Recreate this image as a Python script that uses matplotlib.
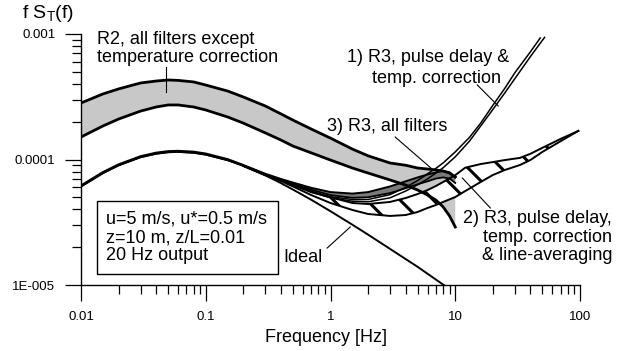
import matplotlib
matplotlib.use('Agg')
import matplotlib.pyplot as plt
from matplotlib.patches import Rectangle
from matplotlib.ticker import FixedLocator, FixedFormatter, LogLocator, NullFormatter

plt.rcParams['font.family'] = ['Liberation Sans', 'DejaVu Sans']
plt.rcParams['mathtext.fontset'] = 'custom'
plt.rcParams['mathtext.rm'] = 'Liberation Sans'
plt.rcParams['mathtext.it'] = 'Liberation Sans:italic'
plt.rcParams['hatch.linewidth'] = 2.2

# ---------------- data ----------------
f_r2 = [0.01, 0.015, 0.02, 0.03, 0.04, 0.05, 0.06, 0.08, 0.1, 0.15, 0.2, 0.3,
        0.4, 0.5, 0.7, 1, 1.5, 2, 3, 4, 5, 6, 7, 8, 9, 10]
r2_upper = [2.82e-4, 3.33e-4, 3.65e-4, 4.07e-4, 4.22e-4, 4.30e-4, 4.27e-4, 4.15e-4,
            3.92e-4, 3.51e-4, 3.15e-4, 2.67e-4, 2.31e-4, 2.06e-4, 1.75e-4, 1.48e-4,
            1.21e-4, 1.07e-4, 9.38e-5, 9.0e-5, 8.55e-5, 8.4e-5, 8.25e-5, 8.1e-5,
            7.8e-5, 7.26e-5]
r2_lower = [1.51e-4, 1.85e-4, 2.10e-4, 2.43e-4, 2.62e-4, 2.72e-4, 2.72e-4, 2.62e-4,
            2.48e-4, 2.18e-4, 1.95e-4, 1.63e-4, 1.43e-4, 1.28e-4, 1.13e-4, 9.9e-5,
            8.55e-5, 7.8e-5, 6.87e-5, 6.26e-5, 5.71e-5, 5.21e-5, 4.75e-5, 4.19e-5,
            3.55e-5, 2.9e-5]

f_ideal = [0.01, 0.015, 0.02, 0.03, 0.04, 0.05, 0.06, 0.08, 0.1, 0.15, 0.2, 0.3,
           0.4, 0.5, 0.7, 1, 1.5, 2, 3, 5, 8.2]
ideal = [6.09e-5, 7.79e-5, 8.98e-5, 1.043e-4, 1.112e-4, 1.143e-4, 1.150e-4, 1.132e-4,
         1.094e-4, 9.87e-5, 8.91e-5, 7.48e-5, 6.49e-5, 5.76e-5, 4.78e-5, 3.87e-5,
         3.02e-5, 2.52e-5, 1.94e-5, 1.394e-5, 0.99e-5]

f_r3 = [0.01, 0.015, 0.02, 0.03, 0.04, 0.05, 0.06, 0.08, 0.1, 0.15,
        0.2, 0.3, 0.4, 0.5, 0.7, 1, 1.5, 2, 3, 4, 5, 6, 7, 8, 9, 10]
r3_all_upper = [6.22e-5, 7.95e-5, 9.15e-5, 1.063e-4, 1.134e-4, 1.166e-4, 1.173e-4,
                1.155e-4, 1.116e-4, 1.007e-4,
                9.05e-5, 7.7e-5, 7.0e-5, 6.55e-5, 5.95e-5, 5.5e-5, 5.35e-5, 5.5e-5,
                6.1e-5, 6.7e-5, 7.2e-5, 7.6e-5, 7.9e-5, 8.1e-5, 7.9e-5, 7.2e-5]
r3_all_lower = [6.09e-5, 7.79e-5, 8.98e-5, 1.043e-4, 1.112e-4, 1.143e-4, 1.150e-4,
                1.132e-4, 1.094e-4, 9.87e-5,
                8.93e-5, 7.6e-5, 6.9e-5, 6.4e-5, 5.75e-5, 5.2e-5, 4.95e-5, 5.0e-5,
                5.4e-5, 5.9e-5, 6.35e-5, 6.7e-5, 7.05e-5, 7.2e-5, 7.05e-5, 6.5e-5]

f_pd_a = [0.2, 0.3, 0.4, 0.5, 0.7, 1, 1.5, 2, 3, 4, 5, 6, 7, 8, 10, 13, 16, 20,
          25, 30, 40, 48]
pd_a = [8.92e-5, 7.55e-5, 6.8e-5, 6.3e-5, 5.6e-5, 5.05e-5, 4.8e-5, 4.8e-5, 5.25e-5,
        6.0e-5, 6.8e-5, 7.7e-5, 8.5e-5, 9.4e-5, 1.15e-4, 1.5e-4, 1.95e-4, 2.7e-4,
        3.7e-4, 4.9e-4, 7.2e-4, 9.3e-4]
f_pd_b = [0.2, 0.3, 0.4, 0.5, 0.7, 1, 1.5, 2, 3, 4, 5, 6, 7, 8, 10, 13, 16, 20,
          25, 30, 40, 52]
pd_b = [8.92e-5, 7.55e-5, 6.8e-5, 6.25e-5, 5.5e-5, 4.95e-5, 4.65e-5, 4.6e-5, 4.95e-5,
        5.6e-5, 6.3e-5, 7.0e-5, 7.8e-5, 8.6e-5, 1.05e-4, 1.4e-4, 1.85e-4, 2.5e-4,
        3.4e-4, 4.4e-4, 6.6e-4, 9.4e-4]

f_la = [0.2, 0.3, 0.4, 0.5, 0.7, 1, 1.5, 2, 3, 4, 5, 6, 7, 8, 10, 12, 16, 20, 25,
        33, 40, 50, 70, 97]
la_upper = [8.9e-5, 7.55e-5, 6.85e-5, 6.3e-5, 5.5e-5, 5.0e-5, 4.5e-5, 4.42e-5,
            4.59e-5, 4.93e-5, 5.31e-5, 5.71e-5, 6.15e-5, 6.62e-5, 7.5e-5, 8.6e-5,
            9.2e-5, 9.54e-5, 9.9e-5, 1.03e-4, 1.11e-4, 1.24e-4, 1.46e-4, 1.69e-4]
la_lower = [8.88e-5, 7.5e-5, 6.74e-5, 6.1e-5, 5.21e-5, 4.5e-5, 3.96e-5, 3.68e-5,
            3.55e-5, 3.61e-5, 3.82e-5, 4.11e-5, 4.34e-5, 4.59e-5, 5.02e-5, 5.6e-5,
            6.62e-5, 7.52e-5, 8.25e-5, 9.04e-5, 9.9e-5, 1.15e-4, 1.40e-4, 1.69e-4]

x_ticks = [0.01, 0.1, 1, 10, 100]
x_labels = ['0.01', '0.1', '1', '10', '100']
y_ticks = [1e-5, 1e-4, 1e-3]
y_labels = ['1E-005', '0.0001', '0.001']

# ---------------- figure ----------------
W, H = 623, 351
fig = plt.figure(figsize=(W / 100, H / 100), dpi=100)
L, R, T, B = 81, 580, 34, 285
ax = fig.add_axes([L / W, 1 - B / H, (R - L) / W, (B - T) / H])
ax.set_xscale('log')
ax.set_yscale('log')
ax.set_xlim(0.01, 100)
ax.set_ylim(1e-5, 1e-3)

# R2 band (stippled)
ax.fill_between(f_r2, r2_lower, r2_upper, facecolor='#c8c8c8', edgecolor='none', zorder=1)
# line-averaging band (hatched)
ax.fill_between(f_la, la_lower, la_upper, facecolor='white', edgecolor='black',
                hatch='\\', linewidth=0, zorder=2)
# all filters band (dark)
ax.fill_between(f_r3, r3_all_lower, r3_all_upper, facecolor='#7a7a7a',
                edgecolor='none', zorder=2.5)

ax.plot(f_r2, r2_upper, color='black', lw=2.0, zorder=4)
ax.plot(f_r2, r2_lower, color='black', lw=2.0, zorder=4)
ax.plot(f_ideal, ideal, color='black', lw=1.4, zorder=4)
ax.plot(f_r3, r3_all_upper, color='black', lw=1.4, zorder=4)
ax.plot(f_r3, r3_all_lower, color='black', lw=1.3, zorder=4)
ax.plot(f_pd_a, pd_a, color='black', lw=1.1, zorder=4)
ax.plot(f_pd_b, pd_b, color='black', lw=1.1, zorder=4)
ax.plot(f_la, la_upper, color='black', lw=1.4, zorder=4)
ax.plot(f_la, la_lower, color='black', lw=1.4, zorder=4)

# axes styling
for s in ['top', 'right']:
    ax.spines[s].set_visible(False)
for s in ['left', 'bottom']:
    ax.spines[s].set_linewidth(1.0)
ax.xaxis.set_major_locator(FixedLocator(x_ticks))
ax.xaxis.set_major_formatter(FixedFormatter(x_labels))
ax.yaxis.set_major_locator(FixedLocator(y_ticks))
ax.yaxis.set_major_formatter(FixedFormatter(y_labels))
ax.xaxis.set_minor_locator(LogLocator(base=10, subs=range(2, 10), numticks=20))
ax.yaxis.set_minor_locator(LogLocator(base=10, subs=range(2, 10), numticks=20))
ax.xaxis.set_minor_formatter(NullFormatter())
ax.yaxis.set_minor_formatter(NullFormatter())
ax.tick_params(which='major', direction='out', length=11.5, width=0.9,
               labelsize=9.5, pad=7)
ax.tick_params(which='minor', direction='out', length=6.5, width=0.9)

fs = 13
# annotations
ax.text(0.0134, 7.66e-4, 'R2, all filters except\ntemperature correction',
        fontsize=fs, ha='left', va='center', linespacing=1.1, zorder=6)
ax.plot([0.048, 0.048], [5.46e-4, 3.45e-4], color='black', lw=0.8, zorder=5)

ax.text(1.36, 6.44e-4, '1) R3, pulse delay &', fontsize=fs, ha='left', va='center', zorder=6)
ax.text(2.16, 4.46e-4, 'temp. correction', fontsize=fs, ha='left', va='center', zorder=6)
ax.plot([15.0, 22.1], [3.93e-4, 2.67e-4], color='black', lw=0.8, zorder=5)

ax.text(0.94, 1.82e-4, '3) R3, all filters', fontsize=fs, ha='left', va='center', zorder=6)
ax.plot([3.30, 6.65], [1.51e-4, 8.25e-5], color='black', lw=0.8, zorder=5)

ax.text(181, 2.41e-5, '2) R3, pulse delay,\ntemp. correction\n& line-averaging',
        fontsize=fs, ha='right', va='center', multialignment='right',
        linespacing=1.1, zorder=6)
ax.plot([19.1, 11.4], [4.11e-5, 7.12e-5], color='black', lw=0.8, zorder=5)

ax.text(0.417, 1.67e-5, 'Ideal', fontsize=fs, ha='left', va='center', zorder=6)
ax.plot([0.94, 1.44], [1.97e-5, 2.90e-5], color='black', lw=0.8, zorder=5)

# parameter box
ax.add_patch(Rectangle((0.032, 0.044), 0.363, 0.291, transform=ax.transAxes,
                       facecolor='white', edgecolor='black', lw=1.0, zorder=6))
ax.text(0.050, 0.189, 'u=5 m/s, u*=0.5 m/s\nz=10 m, z/L=0.01\n20 Hz output',
        transform=ax.transAxes, fontsize=fs, ha='left', va='center',
        linespacing=1.1, zorder=7)

fig.text(22 / W, 1 - 14 / H, r'f S$_\mathrm{T}$(f)', fontsize=14, ha='left', va='center')
fig.text(325.5 / W, 1 - 338 / H, 'Frequency [Hz]', fontsize=fs, ha='center', va='center')

fig.savefig('out.png', dpi=100)
